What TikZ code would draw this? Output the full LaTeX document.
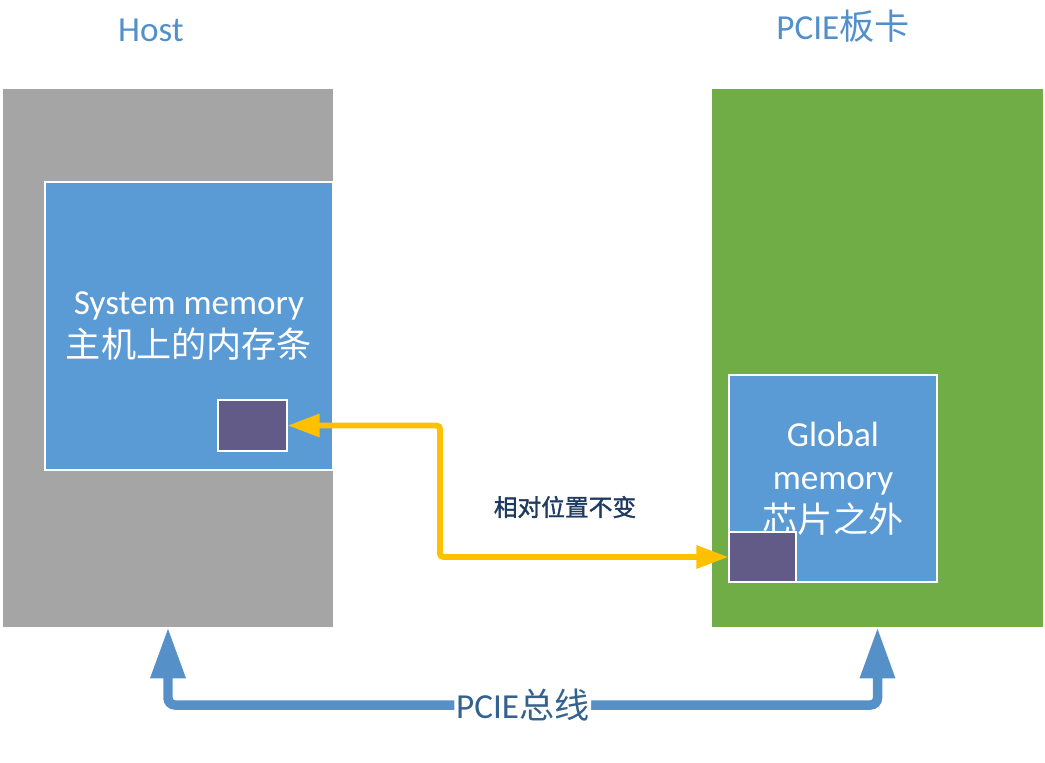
\documentclass[tikz,border=0pt]{standalone}
\usepackage{fontspec}
\setmainfont{Carlito}
\newfontfamily\cjk{Noto Sans CJK SC}
\newfontfamily\cjkbold{Noto Sans CJK SC}[FakeBold=1.5]
\usepackage{tikz}
\usetikzlibrary{arrows.meta,positioning,calc}
\definecolor{hostgray}{HTML}{A5A5A5}
\definecolor{cardgreen}{HTML}{71AD47}
\definecolor{memblue}{HTML}{5A9AD5}
\definecolor{bufpurple}{HTML}{625A87}
\definecolor{syncorange}{HTML}{FFC000}
\definecolor{busblue}{HTML}{5690C9}
\definecolor{titleblue}{HTML}{5290CC}
\definecolor{labelblue}{HTML}{34628F}
\definecolor{navy}{HTML}{1F3A60}
\tikzset{
  sidebox/.style={
    rectangle, fill=#1, draw=none,
    minimum width=6.6cm, minimum height=10.76cm, inner sep=0pt
  },
  membox/.style={
    rectangle, fill=memblue, draw=white, line width=0.6pt,
    text=white, align=center, inner sep=0pt,
    font=\fontsize{20}{24.5}\selectfont
  },
  bufbox/.style={
    rectangle, fill=bufpurple, draw=white, line width=0.6pt, inner sep=0pt
  },
  title/.style={
    text=titleblue, font=\fontsize{20}{24}\selectfont
  },
  syncarrow/.style={
    {Triangle[length=0.64cm, width=0.44cm]}-{Triangle[length=0.64cm, width=0.44cm]},
    line width=3.4pt, color=syncorange, rounded corners=2pt
  },
  busarrow/.style={
    {Triangle[length=1.02cm, width=0.66cm]}-{Triangle[length=1.02cm, width=0.66cm]},
    line width=5.4pt, color=busblue, rounded corners=4pt
  },
}
\begin{document}
\begin{tikzpicture}
  \useasboundingbox (0,0) rectangle (20.9,-15.24);
  % the two sides
  \node[sidebox=hostgray] (host) at (3.36,-7.16) {};
  \node[sidebox=cardgreen, minimum width=6.62cm] (card) at (17.55,-7.16) {};
  \node[title] (hosttitle) at (3.02,-0.6) {Host};
  \node[title] (cardtitle) at (16.86,-0.52) {PCIE{\cjk 板卡}};
  % memories
  \node[membox, minimum width=5.76cm, minimum height=5.76cm] (sysmem) at (3.78,-6.52)
    {System memory\\{\cjk 主机上的内存条}};
  \node[membox, minimum width=4.16cm, minimum height=4.14cm] (globmem) at (16.66,-9.57)
    {Global\\memory\\{\cjk 芯片之外}};
  \node[bufbox, minimum width=1.38cm, minimum height=1.02cm] (hbuf) at (5.05,-8.51) {};
  \node[bufbox, minimum width=1.34cm, minimum height=1.0cm] (dbuf) at (15.25,-11.14) {};
  % mapping between the buffers
  \coordinate (turn) at (8.8,-9.8);
  \draw[syncarrow] (hbuf.east) -- (hbuf.east -| turn) |- (dbuf.west);
  \node[text=navy, font=\cjkbold\fontsize{13.5}{16}\selectfont] (samepos) at (11.3,-10.14) {相对位置不变};
  % the bus
  \coordinate (busL) at (3.36,-14.1);
  \coordinate (busR) at (17.55,-14.1);
  \draw[busarrow] (host.south) -- (busL) -- (busR)
    node[pos=0.5, fill=white, text=labelblue, inner sep=1pt,
         font=\fontsize{20}{24}\selectfont] (buslabel) {PCIE{\cjk 总线}}
    -- (card.south);
\end{tikzpicture}
\end{document}
